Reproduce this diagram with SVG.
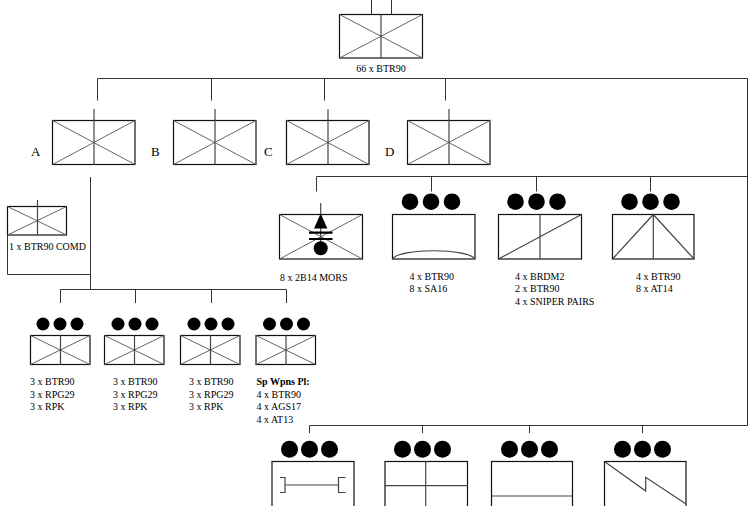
<svg xmlns="http://www.w3.org/2000/svg" width="749" height="506" viewBox="0 0 749 506">
<style>
.bx{fill:none;stroke:#111;stroke-width:1.2}
.x{fill:none;stroke:#666;stroke-width:1}
.v{fill:none;stroke:#444;stroke-width:1.2}
.c{fill:none;stroke:#333;stroke-width:1}
.d{fill:#000}
text{font-family:"Liberation Serif","Times New Roman",serif;font-size:10px;fill:#000}
.lb{font-size:13px}
.b{font-weight:bold}
</style>
<rect width="749" height="506" fill="#fff"/>
<g id="connectors">
<path class="c" d="M371.5,0V14M391.5,0V14"/>
<path class="c" d="M97.5,78.5H747.5V425.5M97.5,78.5V100.5M211.5,78.5V100.5M324.5,78.5V100.5M445.5,78.5V100.5"/>
<path class="c" d="M90.5,177V289.5M60.5,289.5H286.5M60.5,289.5V303M135.5,289.5V303M211.5,289.5V303M286.5,289.5V303"/>
<path class="c" d="M7.5,235V274.5H90.5"/>
<path class="c" d="M316.5,176.5H747.5M316.5,176.5V191.5M431.5,176.5V191.5M536.5,176.5V191.5M650.5,176.5V191.5"/>
<path class="c" d="M309.5,425.5H747.5M309.5,425.5V433M422.5,425.5V433M529.5,425.5V433M642.5,425.5V433"/>
</g>
<g id="hq">
<rect class="bx" x="339.5" y="14.5" width="83" height="43.5"/>
<path class="x" d="M339.5,14.5L422.5,58M422.5,14.5L339.5,58"/>
<path class="v" d="M381,14.5V58"/>
<text x="381" y="71.5" text-anchor="middle">66 x BTR90</text>
</g>
<g id="coyA">
<rect class="bx" x="52.5" y="120.5" width="82.5" height="44"/>
<path class="x" d="M52.5,120.5L135,164.5M135,120.5L52.5,164.5"/>
<path class="v" d="M94,109V164.5"/>
<text class="lb" x="31" y="156">A</text>
</g>
<g id="coyB">
<rect class="bx" x="173.5" y="120.5" width="82.5" height="44"/>
<path class="x" d="M173.5,120.5L256,164.5M256,120.5L173.5,164.5"/>
<path class="v" d="M215,109V164.5"/>
<text class="lb" x="151" y="156">B</text>
</g>
<g id="coyC">
<rect class="bx" x="286.5" y="120.5" width="82.5" height="44"/>
<path class="x" d="M286.5,120.5L369,164.5M369,120.5L286.5,164.5"/>
<path class="v" d="M328,109V164.5"/>
<text class="lb" x="264" y="156">C</text>
</g>
<g id="coyD">
<rect class="bx" x="407.5" y="120.5" width="82.5" height="44"/>
<path class="x" d="M407.5,120.5L490,164.5M490,120.5L407.5,164.5"/>
<path class="v" d="M449,109V164.5"/>
<text class="lb" x="385" y="156">D</text>
</g>
<g id="comd">
<rect class="bx" x="7.5" y="206.5" width="59" height="28.5"/>
<path class="x" d="M7.5,206.5L66.5,235M66.5,206.5L7.5,235"/>
<path class="v" d="M37.5,200V235"/>
<text x="9" y="250">1 x BTR90 COMD</text>
</g>
<g id="plt1">
<circle class="d" cx="43" cy="324" r="6.5"/><circle class="d" cx="60" cy="324" r="6.5"/><circle class="d" cx="77" cy="324" r="6.5"/>
<rect class="bx" x="30.5" y="335.5" width="59.5" height="29"/>
<path class="x" d="M30.5,335.5L90,364.5M90,335.5L30.5,364.5"/>
<path class="v" d="M60.5,335.5V364.5"/>
<text x="30" y="385">3 x BTR90</text><text x="30" y="397.5">3 x RPG29</text><text x="30" y="410">3 x RPK</text>
</g>
<g id="plt2">
<circle class="d" cx="118" cy="324" r="6.5"/><circle class="d" cx="135" cy="324" r="6.5"/><circle class="d" cx="152" cy="324" r="6.5"/>
<rect class="bx" x="104.5" y="335.5" width="59.5" height="29"/>
<path class="x" d="M104.5,335.5L164,364.5M164,335.5L104.5,364.5"/>
<path class="v" d="M134.5,335.5V364.5"/>
<text x="113" y="385">3 x BTR90</text><text x="113" y="397.5">3 x RPG29</text><text x="113" y="410">3 x RPK</text>
</g>
<g id="plt3">
<circle class="d" cx="194" cy="324" r="6.5"/><circle class="d" cx="211" cy="324" r="6.5"/><circle class="d" cx="228" cy="324" r="6.5"/>
<rect class="bx" x="180.5" y="335.5" width="59.5" height="29"/>
<path class="x" d="M180.5,335.5L240,364.5M240,335.5L180.5,364.5"/>
<path class="v" d="M210.5,335.5V364.5"/>
<text x="189" y="385">3 x BTR90</text><text x="189" y="397.5">3 x RPG29</text><text x="189" y="410">3 x RPK</text>
</g>
<g id="spwpns">
<circle class="d" cx="269.5" cy="324" r="6.5"/><circle class="d" cx="286.5" cy="324" r="6.5"/><circle class="d" cx="303.5" cy="324" r="6.5"/>
<rect class="bx" x="256" y="335.5" width="59.5" height="29"/>
<path class="x" d="M256,335.5L315.5,364.5M315.5,335.5L256,364.5"/>
<path class="v" d="M286,335.5V364.5"/>
<text class="b" x="256.5" y="385">Sp Wpns Pl:</text><text x="256.5" y="397.5">4 x BTR90</text><text x="256.5" y="410">4 x AGS17</text><text x="256.5" y="422.5">4 x AT13</text>
</g>
<g id="mortar">
<rect class="bx" x="279.5" y="214.5" width="83" height="44.5"/>
<path class="x" d="M279.5,214.5L362.5,259M362.5,214.5L279.5,259"/>
<path class="v" d="M320.7,203V214M320.7,226V248" stroke-width="2"/>
<path class="d" d="M320.7,213.5L314,228.5H327.4Z"/>
<path d="M309,232.7H332.5M309,239H332.5" stroke="#000" stroke-width="2.2"/>
<circle class="d" cx="320.7" cy="248.3" r="7"/>
<text x="280" y="280.5">8 x 2B14 MORS</text>
</g>
<g id="sa16">
<circle class="d" cx="410" cy="201.7" r="8.3"/><circle class="d" cx="431" cy="201.7" r="8.3"/><circle class="d" cx="452" cy="201.7" r="8.3"/>
<rect class="bx" x="392.5" y="214.5" width="82.5" height="44.5"/>
<path class="v" d="M392.5,259C399,248 468,248 475,259"/>
<text x="409.5" y="279.5">4 x BTR90</text><text x="409.5" y="292">8 x SA16</text>
</g>
<g id="recce">
<circle class="d" cx="515.5" cy="201.7" r="8.3"/><circle class="d" cx="536.5" cy="201.7" r="8.3"/><circle class="d" cx="557.5" cy="201.7" r="8.3"/>
<rect class="bx" x="498.5" y="214.5" width="83" height="44.5"/>
<path class="v" d="M540,214.5V259M498.5,259L581.5,214.5"/>
<text x="515" y="279.5">4 x BRDM2</text><text x="515" y="292">2 x BTR90</text><text x="515" y="304.5">4 x SNIPER PAIRS</text>
</g>
<g id="at14">
<circle class="d" cx="629.5" cy="201.7" r="8.3"/><circle class="d" cx="650.5" cy="201.7" r="8.3"/><circle class="d" cx="671.5" cy="201.7" r="8.3"/>
<rect class="bx" x="612.5" y="214.5" width="81.5" height="44.5"/>
<path class="v" d="M653.3,214.5V259M612.5,259L653.3,214.5L694,259"/>
<text x="636" y="279.5">4 x BTR90</text><text x="636" y="292">8 x AT14</text>
</g>
<g id="unit5">
<circle class="d" cx="289.5" cy="449.3" r="8.5"/><circle class="d" cx="309.5" cy="449.3" r="8.5"/><circle class="d" cx="329.5" cy="449.3" r="8.5"/>
<rect class="bx" x="272" y="461.5" width="82" height="50"/>
<path class="v" d="M280,477.5H285V492.5H280M285,485H338.5M345.5,477.5H338.5V492.5H345.5"/>
</g>
<g id="unit6">
<circle class="d" cx="402.5" cy="449.3" r="8.5"/><circle class="d" cx="422.5" cy="449.3" r="8.5"/><circle class="d" cx="442.5" cy="449.3" r="8.5"/>
<rect class="bx" x="385" y="461.5" width="82.5" height="50"/>
<path class="v" d="M425.7,461.5V506M385,485.7H467.5"/>
</g>
<g id="unit7">
<circle class="d" cx="509.5" cy="449.3" r="8.5"/><circle class="d" cx="529.5" cy="449.3" r="8.5"/><circle class="d" cx="549.5" cy="449.3" r="8.5"/>
<rect class="bx" x="491.5" y="461.5" width="81" height="50"/>
<path class="v" d="M491.5,496H572.5"/>
</g>
<g id="unit8">
<circle class="d" cx="622.5" cy="449.3" r="8.5"/><circle class="d" cx="642.5" cy="449.3" r="8.5"/><circle class="d" cx="662.5" cy="449.3" r="8.5"/>
<rect class="bx" x="604.5" y="461.5" width="81.5" height="50"/>
<path class="v" d="M604.5,461.5L645.7,491V477.3L686,504"/>
</g>
</svg>
